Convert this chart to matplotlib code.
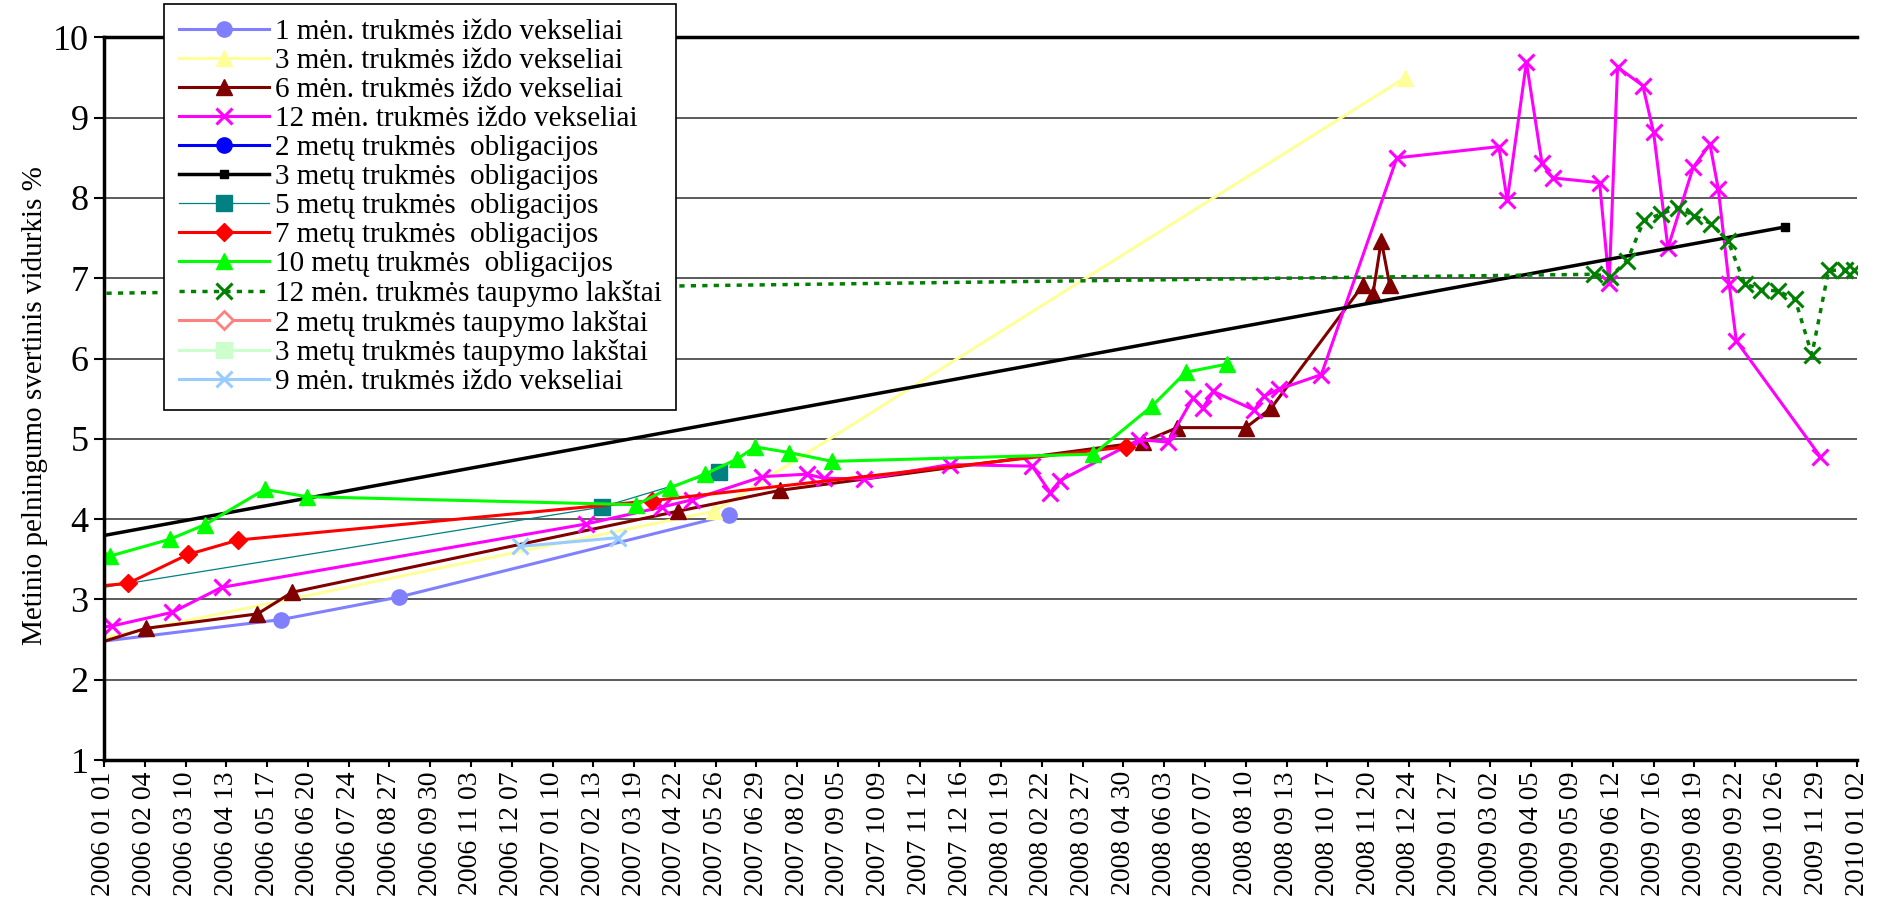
import numpy as np
import pandas as pd
import matplotlib
matplotlib.use("Agg")
import matplotlib.pyplot as plt

plt.rcParams['font.family'] = ['Liberation Serif', 'DejaVu Serif']

# --- data (dates of auctions, weighted average yield %) ---
# points dated before 2006-01-01 only carry the line in from the left edge
m1_dates = ['2005-12-15', '2006-05-29', '2006-09-04', '2007-06-06']
m1_vals = [2.45, 2.75, 3.03, 4.05]

m3_dates = ['2005-12-15', '2007-05-25', '2008-12-21']
m3_vals = [2.47, 4.10, 9.50]

m6_dates = ['2005-12-15', '2006-02-05', '2006-05-09', '2006-06-07', '2007-04-25',
            '2007-07-19', '2008-05-16', '2008-06-14', '2008-08-10', '2008-08-31',
            '2008-11-16', '2008-11-24', '2008-12-01', '2008-12-08']
m6_vals = [2.40, 2.64, 2.82, 3.09, 4.10, 4.36, 4.96, 5.14, 5.14, 5.38,
           6.92, 6.80, 7.47, 6.92]

m12_dates = ['2005-12-15', '2006-01-08', '2006-02-27', '2006-04-09', '2007-02-07',
             '2007-04-11', '2007-05-06', '2007-07-04', '2007-08-10', '2007-08-24',
             '2007-09-27', '2007-12-07', '2008-02-14', '2008-02-29', '2008-03-08',
             '2008-05-13', '2008-06-06', '2008-06-27', '2008-07-05', '2008-07-14',
             '2008-08-17', '2008-08-25', '2008-09-07', '2008-10-12', '2008-12-14',
             '2009-03-09', '2009-03-16', '2009-04-01', '2009-04-14', '2009-04-23',
             '2009-06-01', '2009-06-09', '2009-06-16', '2009-07-07', '2009-07-16',
             '2009-07-28', '2009-08-18', '2009-09-01', '2009-09-08', '2009-09-17',
             '2009-09-23', '2009-12-02']
m12_vals = [2.63, 2.67, 2.84, 3.15, 3.94, 4.15, 4.24, 4.53, 4.56, 4.51,
            4.50, 4.68, 4.66, 4.33, 4.48, 4.99, 4.96, 5.51, 5.38, 5.59,
            5.36, 5.53, 5.62, 5.80, 8.50, 8.64, 7.97, 9.69, 8.43, 8.25,
            8.19, 6.94, 9.63, 9.40, 8.82, 7.38, 8.38, 8.67, 8.11, 6.93,
            6.22, 4.78]

y2_dates = []
y2_vals = []

y3_dates = ['2005-12-15', '2009-11-03']
y3_vals = [3.75, 7.64]

y5_dates = ['2005-12-15', '2007-02-20', '2007-05-29']
y5_vals = [3.11, 4.15, 4.59]

y7_dates = ['2005-12-15', '2006-01-21', '2006-03-12', '2006-04-23', '2007-04-03',
            '2008-05-02']
y7_vals = [3.15, 3.20, 3.56, 3.74, 4.23, 4.90]

y10_dates = ['2005-12-25', '2006-01-06', '2006-02-25', '2006-03-26', '2006-05-15',
             '2006-06-19', '2007-03-21', '2007-04-18', '2007-05-17', '2007-06-13',
             '2007-06-28', '2007-07-26', '2007-08-31', '2008-04-05', '2008-05-24',
             '2008-06-21', '2008-07-25']
y10_vals = [3.65, 3.54, 3.75, 3.93, 4.37, 4.28, 4.18, 4.39, 4.56, 4.75,
            4.90, 4.83, 4.72, 4.81, 5.41, 5.83, 5.93]

s12_dates = ['2005-12-15', '2009-05-27', '2009-06-10', '2009-06-24', '2009-07-08',
             '2009-07-22', '2009-08-05', '2009-08-19', '2009-09-02', '2009-09-16',
             '2009-09-30', '2009-10-14', '2009-10-28', '2009-11-11', '2009-11-25',
             '2009-12-09', '2009-12-23', '2009-12-30']
s12_vals = [6.81, 7.05, 7.02, 7.22, 7.72, 7.80, 7.88, 7.78, 7.68, 7.47,
            6.93, 6.86, 6.84, 6.74, 6.05, 7.10, 7.10, 7.10]

s2_dates = []
s2_vals = []
s3_dates = []
s3_vals = []

m9_dates = ['2006-12-14', '2007-03-06']
m9_vals = [3.66, 3.77]

labels = ['1 mėn. trukmės iždo vekseliai',
          '3 mėn. trukmės iždo vekseliai',
          '6 mėn. trukmės iždo vekseliai',
          '12 mėn. trukmės iždo vekseliai',
          '2 metų trukmės  obligacijos',
          '3 metų trukmės  obligacijos',
          '5 metų trukmės  obligacijos',
          '7 metų trukmės  obligacijos',
          '10 metų trukmės  obligacijos',
          '12 mėn. trukmės taupymo lakštai',
          '2 metų trukmės taupymo lakštai',
          '3 metų trukmės taupymo lakštai',
          '9 mėn. trukmės iždo vekseliai']

x_start = pd.Timestamp('2006-01-01')
x_end = pd.Timestamp('2010-01-02')
tick_dates = pd.date_range(x_start, x_end, freq='34D')

fig = plt.figure(figsize=(18.8, 8.97), dpi=100)
ax = fig.add_axes([0.0553, 0.1527, 0.9327, 0.8056])

def d(lst):
    return pd.to_datetime(lst)

lw = 2.2
ax.plot(d(m1_dates), m1_vals, color='#8080FF', lw=lw, marker='o', ms=11, label=labels[0])
ax.plot(d(m3_dates), m3_vals, color='#FFFF99', lw=lw, marker='^', ms=12, label=labels[1])
ax.plot(d(m6_dates), m6_vals, color='#800000', lw=lw, marker='^', ms=12, label=labels[2])
ax.plot(d(m12_dates), m12_vals, color='#FF00FF', lw=lw, marker='x', ms=12, mew=2.2,
        label=labels[3])
ax.plot(d(y2_dates), y2_vals, color='#0000FF', lw=lw, marker='o', ms=11, label=labels[4])
ax.plot(d(y3_dates), y3_vals, color='black', lw=2.5, marker='s', ms=6, label=labels[5])
ax.plot(d(y5_dates), y5_vals, color='#008080', lw=0.9, marker='s', ms=11, label=labels[6])
ax.plot(d(y7_dates), y7_vals, color='#FF0000', lw=lw, marker='D', ms=9.5, label=labels[7])
ax.plot(d(y10_dates), y10_vals, color='#00FF00', lw=lw, marker='^', ms=12, label=labels[8])
ax.plot(d(s12_dates), s12_vals, color='#008000', lw=2.5, ls=(0, (1.5, 1.8)), marker='x',
        ms=12, mew=2.2, label=labels[9])
ax.plot(d(s2_dates), s2_vals, color='#FF8080', lw=lw, marker='D', ms=9, mfc='white',
        mew=2, label=labels[10])
ax.plot(d(s3_dates), s3_vals, color='#CCFFCC', lw=lw, marker='s', ms=11, label=labels[11])
ax.plot(d(m9_dates), m9_vals, color='#99CCFF', lw=lw, marker='x', ms=12, mew=2.2,
        label=labels[12])

ax.set_xlim(x_start, x_end)
ax.set_ylim(1, 10)
ax.set_yticks(np.arange(1, 11))
ax.set_yticklabels([str(v) for v in range(1, 11)])
ax.set_xticks(tick_dates)
ax.set_xticklabels([t.strftime('%Y %m %d') for t in tick_dates], rotation=90)
ax.tick_params(axis='y', direction='out', length=7, width=1.5, labelsize=26, pad=4)
ax.tick_params(axis='x', direction='out', length=5, width=1.5, labelsize=20, pad=3)

ax.yaxis.grid(True, color='#404040', lw=1.2)
ax.set_axisbelow(True)
for side in ['left', 'bottom', 'top']:
    ax.spines[side].set_linewidth(2.5)
ax.spines['right'].set_visible(False)

ax.set_ylabel('Metinio pelningumo svertinis vidurkis %', fontsize=21)
ax.yaxis.set_label_coords(-0.032, 0.49)

leg = ax.legend(loc='upper left', bbox_to_anchor=(164 / 1880, 1 - 4 / 897),
                bbox_transform=fig.transFigure, fontsize=21, frameon=True,
                fancybox=False, framealpha=1, edgecolor='black', labelspacing=0.09,
                handlelength=3.1, handletextpad=0.2, borderpad=0.5, borderaxespad=0)
leg.get_frame().set_linewidth(1.2)

fig.savefig('out.png', dpi=100)
